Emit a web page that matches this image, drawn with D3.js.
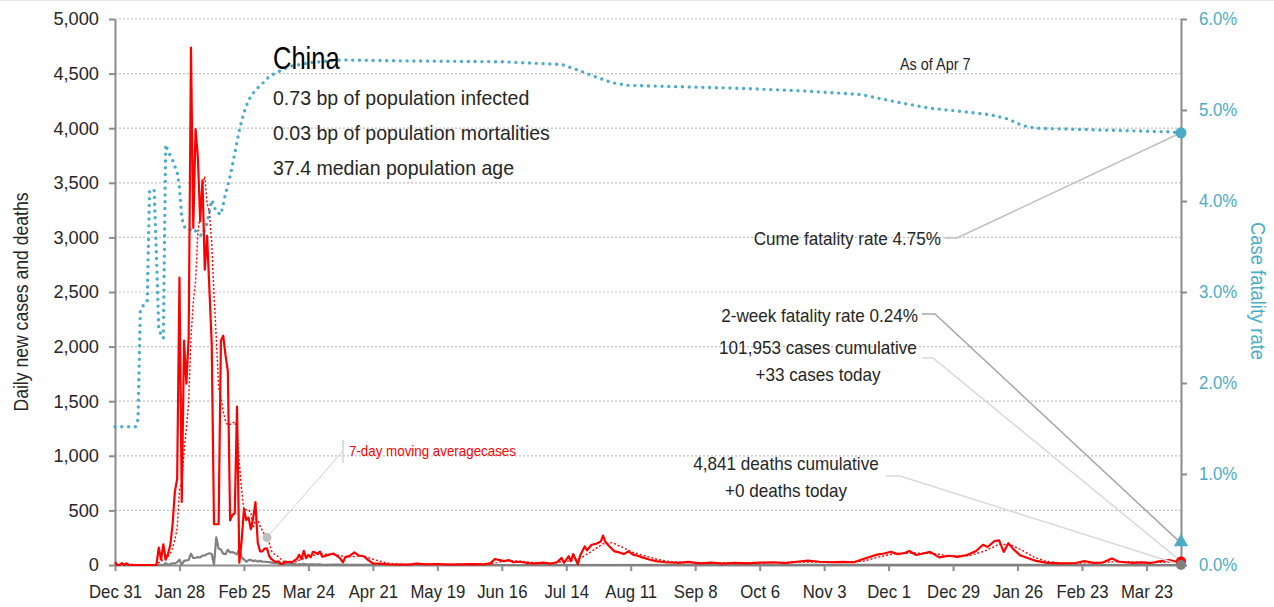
<!doctype html>
<html lang='en'>
<head>
  <meta charset='utf-8'>
  <title>China</title>
  <style>
    html, body { margin: 0; padding: 0; background: #fff; }
    svg { display: block; }
    text {
      font-family: 'Liberation Sans', Arial, sans-serif;
      fill: #262626;
    }
    .grid line { stroke: #bfbfbf; stroke-width: 1.2; stroke-dasharray: 2 2; }
    .axis path, .axis line { stroke: #8c8c8c; stroke-width: 2; }
    .axis text { font-size: 18.6px; }
    .rate text { fill: #4bacc6; }
  </style>
</head>
<body>
  <script src='https://d3js.org/d3.v7.min.js'></script>
  <script>
    const width = 1274
    const height = 607

    // daily values starting Dec 31 2019 (through Mar 31 2020)
    const casesEarly = [
      27, 0, 0, 17, 0, 15, 0, 0, 0, 0, 0, 0, 0, 0, 0, 0, 0, 0, 0,
      160, 50, 190, 50, 100, 180, 370, 670, 790, 2632, 578, 2054, 1661,
      2089, 4739, 3086, 3991, 3733, 3147, 3523, 2704, 3015, 2525, 2032, 373, 373, 373,
      2055, 2100, 1921, 1777, 408, 458, 473, 1451, 21, 219, 513, 412, 434, 328, 428,
      576, 204, 125, 125, 151, 153, 80, 53, 37, 27, 34, 11, 13, 32, 26, 30, 25, 44, 54,
      94, 55, 130, 63, 93, 70, 121, 115, 102, 123, 76, 81
    ]
    const deathsEarly = [
      0, 0, 0, 0, 0, 0, 0, 0, 0, 0, 0, 0, 0, 0, 0, 0, 0, 0, 0, 0, 0, 0,
      17, 1, 8, 16, 14, 26, 49, 2, 38, 42,
      46, 103, 64, 66, 72, 70, 85, 87, 100, 107, 100, 5, 253, 152,
      142, 104, 98, 139, 115, 118, 109, 97, 150, 71, 52, 29, 44, 47, 35,
      42, 31, 38, 31, 30, 28, 27, 22, 17, 22, 11, 7, 13, 10, 14, 13, 11, 8, 3,
      7, 6, 9, 7, 4, 6, 5, 3, 5, 5, 1, 1
    ]
    const avgEarly = [
      4, 4, 4, 6, 6, 8, 8, 5, 5, 5, 2, 2, 0, 0, 0, 0, 0, 0, 0,
      23, 30, 57, 64, 79, 104, 157, 230, 336, 685, 760, 1039, 1251,
      1496, 2078, 2406, 2600, 3050, 3207, 3473, 3560, 3314, 3234, 2954, 2474, 2078, 1628,
      1535, 1404, 1318, 1282, 1287, 1299, 1313, 1227, 930, 687, 506, 507, 503, 483, 336,
      416, 414, 358, 317, 277, 252, 202, 127, 103, 89, 76, 56, 36, 30, 26, 25, 24, 26, 32,
      44, 47, 62, 66, 76, 80, 89, 92, 99, 98, 100, 98
    ]

    // later values, read every few days
    const casesLate = [
      ['2020-04-02', 95], ['2020-04-04', 105], ['2020-04-06', 75], ['2020-04-07', 55], ['2020-04-08', 25],
      ['2020-04-09', 70], ['2020-04-11', 85], ['2020-04-13', 115], ['2020-04-15', 85], ['2020-04-17', 80],
      ['2020-04-19', 45], ['2020-04-21', 15], ['2020-04-24', 12], ['2020-04-28', 6], ['2020-05-02', 4],
      ['2020-05-07', 3], ['2020-05-10', 14], ['2020-05-14', 6], ['2020-05-19', 9], ['2020-05-24', 4],
      ['2020-05-29', 6], ['2020-06-03', 8], ['2020-06-08', 5], ['2020-06-11', 15], ['2020-06-13', 55],
      ['2020-06-15', 45], ['2020-06-17', 35], ['2020-06-19', 45], ['2020-06-21', 25], ['2020-06-24', 30],
      ['2020-06-27', 18], ['2020-07-01', 15], ['2020-07-04', 22], ['2020-07-07', 12], ['2020-07-10', 25],
      ['2020-07-12', 65], ['2020-07-13', 20], ['2020-07-15', 80], ['2020-07-16', 35], ['2020-07-17', 100],
      ['2020-07-19', 8], ['2020-07-20', 85], ['2020-07-22', 170], ['2020-07-23', 135], ['2020-07-25', 185],
      ['2020-07-27', 195], ['2020-07-29', 215], ['2020-07-30', 270], ['2020-07-31', 210], ['2020-08-02', 165],
      ['2020-08-04', 125], ['2020-08-06', 115], ['2020-08-08', 100], ['2020-08-10', 125], ['2020-08-12', 95],
      ['2020-08-14', 85], ['2020-08-16', 70], ['2020-08-19', 50], ['2020-08-22', 35], ['2020-08-26', 25],
      ['2020-09-01', 20], ['2020-09-05', 28], ['2020-09-10', 15], ['2020-09-15', 22], ['2020-09-20', 12],
      ['2020-09-25', 20], ['2020-10-01', 15], ['2020-10-06', 22], ['2020-10-12', 25], ['2020-10-17', 18],
      ['2020-10-22', 30], ['2020-10-27', 40], ['2020-11-01', 30], ['2020-11-06', 25], ['2020-11-11', 28],
      ['2020-11-16', 25], ['2020-11-20', 55], ['2020-11-23', 75], ['2020-11-26', 95], ['2020-11-29', 105],
      ['2020-12-02', 120], ['2020-12-05', 100], ['2020-12-08', 110], ['2020-12-10', 128], ['2020-12-13', 92],
      ['2020-12-16', 105], ['2020-12-19', 120], ['2020-12-23', 70], ['2020-12-27', 85], ['2020-12-31', 75],
      ['2021-01-04', 92], ['2021-01-08', 128], ['2021-01-11', 185], ['2021-01-13', 165], ['2021-01-16', 220],
      ['2021-01-18', 225], ['2021-01-20', 120], ['2021-01-22', 200], ['2021-01-24', 150], ['2021-01-27', 90],
      ['2021-01-31', 60], ['2021-02-03', 38], ['2021-02-08', 20], ['2021-02-14', 14], ['2021-02-20', 16],
      ['2021-02-24', 37], ['2021-02-28', 20], ['2021-03-04', 22], ['2021-03-08', 60], ['2021-03-11', 30],
      ['2021-03-17', 20], ['2021-03-21', 24], ['2021-03-25', 18], ['2021-03-29', 36], ['2021-04-02', 45],
      ['2021-04-05', 30], ['2021-04-07', 33]
    ]
    const deathsLate = [
      ['2020-04-05', 3], ['2020-04-12', 2], ['2020-04-20', 1], ['2020-05-01', 0],
      ['2021-01-15', 1], ['2021-04-07', 0]
    ]
    const avgLate = [
      ['2020-04-04', 96], ['2020-04-08', 80], ['2020-04-12', 75], ['2020-04-16', 88], ['2020-04-20', 60],
      ['2020-04-24', 35], ['2020-04-28', 15], ['2020-05-05', 6], ['2020-05-15', 8], ['2020-05-30', 6],
      ['2020-06-10', 7], ['2020-06-14', 22], ['2020-06-18', 40], ['2020-06-24', 35], ['2020-06-30', 20],
      ['2020-07-08', 17], ['2020-07-15', 38], ['2020-07-20', 60], ['2020-07-25', 125], ['2020-07-30', 195],
      ['2020-08-03', 205], ['2020-08-07', 165], ['2020-08-12', 115], ['2020-08-17', 85], ['2020-08-22', 55],
      ['2020-08-28', 30], ['2020-09-05', 22], ['2020-09-20', 18], ['2020-10-10', 20], ['2020-10-25', 28],
      ['2020-11-10', 28], ['2020-11-20', 35], ['2020-11-27', 75], ['2020-12-04', 105], ['2020-12-12', 110],
      ['2020-12-20', 105], ['2020-12-28', 82], ['2021-01-05', 85], ['2021-01-12', 130], ['2021-01-18', 190],
      ['2021-01-23', 185], ['2021-01-28', 135], ['2021-02-02', 75], ['2021-02-07', 35], ['2021-02-15', 15],
      ['2021-03-01', 22], ['2021-03-12', 32], ['2021-03-25', 22], ['2021-04-07', 30]
    ]

    // case fatality rate, percent
    const fatalityRate = [
      ['2019-12-31', 1.52], ['2020-01-09', 1.52], ['2020-01-10', 1.6], ['2020-01-11', 2.8], ['2020-01-12', 2.84],
      ['2020-01-13', 2.88], ['2020-01-14', 2.9], ['2020-01-15', 4.1], ['2020-01-16', 4.12], ['2020-01-17', 4.13],
      ['2020-01-18', 3.4], ['2020-01-19', 2.6], ['2020-01-20', 2.53], ['2020-01-21', 2.49], ['2020-01-22', 4.62],
      ['2020-01-23', 4.55], ['2020-01-24', 4.5], ['2020-01-25', 4.45], ['2020-01-26', 4.38], ['2020-01-27', 4.32],
      ['2020-01-28', 4.15], ['2020-01-29', 3.82], ['2020-01-30', 3.72], ['2020-02-01', 3.68], ['2020-02-03', 3.7],
      ['2020-02-05', 3.64], ['2020-02-07', 3.62], ['2020-02-09', 3.76], ['2020-02-11', 4.01], ['2020-02-13', 3.88],
      ['2020-02-15', 3.85], ['2020-02-17', 4.08], ['2020-02-19', 4.27], ['2020-02-21', 4.52], ['2020-02-23', 4.78],
      ['2020-02-25', 4.97], ['2020-02-27', 5.11], ['2020-03-01', 5.22], ['2020-03-04', 5.29], ['2020-03-07', 5.37],
      ['2020-03-10', 5.41], ['2020-03-16', 5.48], ['2020-03-25', 5.52], ['2020-04-07', 5.55], ['2020-05-03', 5.54],
      ['2020-06-16', 5.53], ['2020-07-12', 5.5], ['2020-07-19', 5.44], ['2020-07-26', 5.37], ['2020-08-03', 5.3],
      ['2020-08-10', 5.27], ['2020-09-25', 5.24], ['2020-10-25', 5.21], ['2020-11-19', 5.17], ['2020-12-04', 5.09],
      ['2020-12-19', 5.02], ['2021-01-14', 4.95], ['2021-01-22', 4.9], ['2021-01-28', 4.83], ['2021-02-03', 4.8],
      ['2021-03-04', 4.78], ['2021-04-02', 4.76], ['2021-04-07', 4.75]
    ]

    const caseTicks = d3.range(0, 5001, 500)
    const rateTicks = [0, 1, 2, 3, 4, 5, 6]
    const tickEveryDays = 28

    const country = 'China'
    const infectedBp = 0.73
    const mortalityBp = 0.03
    const medianAge = 37.4
    const asOf = 'Apr 7'
    const cumeRate = 4.75
    const twoWeekRate = 0.24
    const totalCases = 101953
    const casesToday = 33
    const totalDeaths = 4841
    const deathsToday = 0
    const legendDate = '2020-03-06'

    const parse = d3.utcParse('%Y-%m-%d')
    const firstDay = parse('2019-12-31')
    const lastDay = parse('2021-04-07')

    const daily = (arr) => arr.map((v, i) => ({ date: d3.utcDay.offset(firstDay, i), value: v }))
    const pairs = (arr) => arr.map(([d, v]) => ({ date: parse(d), value: v }))

    const cases = daily(casesEarly).concat(pairs(casesLate))
    const deaths = daily(deathsEarly).concat(pairs(deathsLate))
    const average = daily(avgEarly).concat(pairs(avgLate))
    const rate = pairs(fatalityRate)

    const x = d3.scaleUtc().domain([firstDay, lastDay]).range([115, 1181])
    const y = d3.scaleLinear().domain([0, 5000]).range([565, 19])
    const yRate = d3.scaleLinear().domain([0, 6]).range([565, 19])

    // the original face is narrower than anything installed, so squeeze text horizontally
    function condense(sel, factor) {
      sel.each(function () {
        const len = this.getComputedTextLength()
        d3.select(this)
          .attr('textLength', len * factor)
          .attr('lengthAdjust', 'spacingAndGlyphs')
      })
    }

    const svg = d3.select('body').append('svg')
      .attr('width', width)
      .attr('height', height)

    svg.append('line')
      .attr('x1', 0).attr('x2', width).attr('y1', 0.5).attr('y2', 0.5)
      .attr('stroke', '#e6e6e6')

    // gridlines
    svg.append('g')
      .attr('class', 'grid')
      .selectAll('line')
      .data(caseTicks.filter(d => d > 0))
      .join('line')
      .attr('x1', x.range()[0])
      .attr('x2', x.range()[1])
      .attr('y1', d => y(d))
      .attr('y2', d => y(d))

    // axes
    const xTicks = d3.range(0, 449, tickEveryDays).map(d => d3.utcDay.offset(firstDay, d))

    const xAxis = svg.append('g')
      .attr('class', 'axis')
      .attr('transform', 'translate(0,565)')
      .call(d3.axisBottom(x).tickValues(xTicks).tickFormat(d3.utcFormat('%b %-d')).tickSize(6).tickSizeOuter(0))
    xAxis.selectAll('text').attr('y', 20).call(condense, 0.9)

    const leftAxis = svg.append('g')
      .attr('class', 'axis')
      .attr('transform', 'translate(115,0)')
      .call(d3.axisLeft(y).tickValues(caseTicks).tickFormat(d3.format(',')).tickSize(6).tickSizeOuter(0))
    leftAxis.selectAll('text').attr('x', -16).call(condense, 0.98)

    const rightAxis = svg.append('g')
      .attr('class', 'axis rate')
      .attr('transform', 'translate(1181,0)')
      .call(d3.axisRight(yRate).tickValues(rateTicks).tickFormat(d => d.toFixed(1) + '%').tickSize(6).tickSizeOuter(0))
    rightAxis.selectAll('text').attr('x', 18).call(condense, 0.9)

    svg.append('text')
      .attr('transform', 'translate(28,302) rotate(-90)')
      .attr('text-anchor', 'middle')
      .style('font-size', '20px')
      .text('Daily new cases and deaths')
      .call(condense, 0.88)

    svg.append('text')
      .attr('transform', 'translate(1251,291) rotate(90)')
      .attr('text-anchor', 'middle')
      .style('font-size', '20px')
      .style('fill', '#4bacc6')
      .text('Case fatality rate')
      .call(condense, 0.92)

    // series
    const line = (scale) => d3.line().x(d => x(d.date)).y(d => scale(d.value))

    svg.append('path')
      .datum(rate)
      .attr('fill', 'none')
      .attr('stroke', '#4bacc6')
      .attr('stroke-width', 3.4)
      .attr('stroke-linecap', 'round')
      .attr('stroke-dasharray', '0 6.8')
      .attr('d', line(yRate))

    svg.append('path')
      .datum(deaths)
      .attr('fill', 'none')
      .attr('stroke', '#808080')
      .attr('stroke-width', 2.2)
      .attr('stroke-linejoin', 'round')
      .attr('d', line(y))

    svg.append('path')
      .datum(cases)
      .attr('fill', 'none')
      .attr('stroke', '#ff0000')
      .attr('stroke-width', 2.2)
      .attr('stroke-linejoin', 'round')
      .attr('d', line(y))

    svg.append('path')
      .datum(average)
      .attr('fill', 'none')
      .attr('stroke', '#ff0000')
      .attr('stroke-width', 1.4)
      .attr('stroke-dasharray', '2 2')
      .attr('d', line(y))

    // moving average label
    const legendPoint = average.find(d => +d.date === +parse(legendDate))
    const lx = x(legendPoint.date)
    const ly = y(legendPoint.value)
    svg.append('line')
      .attr('x1', lx).attr('y1', ly).attr('x2', 343).attr('y2', 451)
      .attr('stroke', '#d0d0d0')
    svg.append('line')
      .attr('x1', 343).attr('y1', 440).attr('x2', 343).attr('y2', 463)
      .attr('stroke', '#bfbfbf')
    svg.append('circle')
      .attr('cx', lx).attr('cy', ly).attr('r', 4.5)
      .attr('fill', '#bfbfbf')
    svg.append('text')
      .attr('x', 349).attr('y', 456)
      .style('font-size', '15px')
      .style('fill', '#ff0000')
      .text('7-day moving averagecases')
      .call(condense, 0.89)

    // title block
    svg.append('text')
      .attr('x', 273).attr('y', 69)
      .style('font-size', '31.5px')
      .style('fill', '#000')
      .text(country)
      .call(condense, 0.81)

    const info = [
      `${infectedBp} bp of population infected`,
      `${mortalityBp} bp of population mortalities`,
      `${medianAge} median population age`
    ]
    svg.append('g')
      .selectAll('text')
      .data(info)
      .join('text')
      .attr('x', 273)
      .attr('y', (d, i) => 105 + i * 35)
      .style('font-size', '21px')
      .text(d => d)
      .call(condense, 0.93)

    svg.append('text')
      .attr('x', 900).attr('y', 70)
      .style('font-size', '16px')
      .text('As of ' + asOf)
      .call(condense, 0.9)

    // end markers
    const endX = x(lastDay)
    const lastCases = cases[cases.length - 1]
    const lastDeaths = deaths[deaths.length - 1]
    const lastRate = rate[rate.length - 1]

    const leader = (pts, color) => svg.append('polyline')
      .attr('points', pts.map(p => p.join(',')).join(' '))
      .attr('fill', 'none')
      .attr('stroke', color)
      .attr('stroke-width', 1.5)

    leader([[945, 238], [957, 238], [endX, yRate(lastRate.value)]], '#bfbfbf')
    leader([[922, 314], [935, 314], [endX, yRate(twoWeekRate)]], '#a6a6a6')
    leader([[922, 358], [933, 358], [endX, y(lastCases.value)]], '#d9d9d9')
    leader([[886, 476], [900, 476], [endX, y(lastDeaths.value)]], '#d9d9d9')

    svg.append('circle')
      .attr('cx', endX).attr('cy', yRate(lastRate.value)).attr('r', 5.5)
      .attr('fill', '#4bacc6')
    svg.append('path')
      .attr('d', d3.symbol(d3.symbolTriangle, 90)())
      .attr('transform', `translate(${endX},${yRate(twoWeekRate) - 1})`)
      .attr('fill', '#4bacc6')
    svg.append('circle')
      .attr('cx', endX).attr('cy', y(lastCases.value)).attr('r', 5)
      .attr('fill', '#ff0000')
    svg.append('circle')
      .attr('cx', endX).attr('cy', y(lastDeaths.value)).attr('r', 5)
      .attr('fill', '#808080')

    const fmt = d3.format(',')
    const note = (tx, ty, anchor, lines) => svg.append('g')
      .selectAll('text')
      .data(lines)
      .join('text')
      .attr('x', tx)
      .attr('y', (d, i) => ty + i * 27)
      .attr('text-anchor', anchor)
      .style('font-size', '18.6px')
      .text(d => d)
      .call(condense, 0.92)

    note(941, 245, 'end', [`Cume fatality rate ${cumeRate.toFixed(2)}%`])
    note(918, 322, 'end', [`2-week fatality rate ${twoWeekRate.toFixed(2)}%`])
    note(818, 354, 'middle', [`${fmt(totalCases)} cases cumulative`, `+${casesToday} cases today`])
    note(786, 470, 'middle', [`${fmt(totalDeaths)} deaths cumulative`, `+${deathsToday} deaths today`])
  </script>
</body>
</html>
